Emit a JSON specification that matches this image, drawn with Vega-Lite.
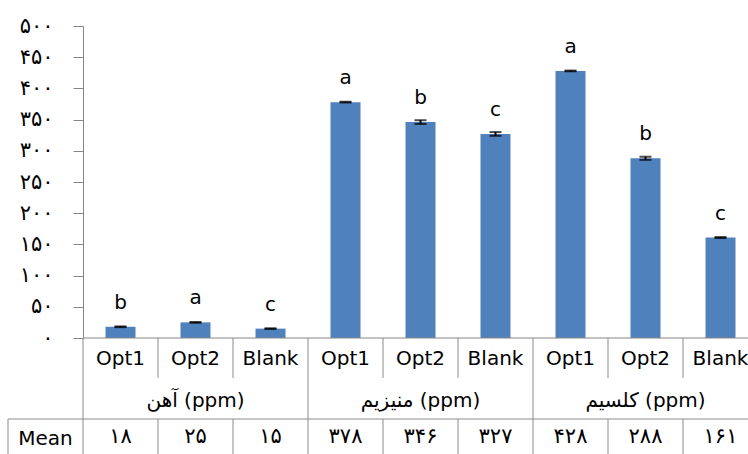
{
  "$schema": "https://vega.github.io/schema/vega-lite/v6.json",
  "padding": {"left": 0, "top": 15, "right": 0, "bottom": 0},
  "background": "white",
  "spacing": 0,
  "bounds": "flush",
  "config": {"view": {"stroke": null}, "font": "DejaVu Sans", "text": {"font": "DejaVu Sans", "color": "black"},
             "axisY": {"grid": false, "tickSize": 10, "labelPadding": 20, "labelOverlap": false, "labelBound": false,
                       "domainColor": "#868686", "tickColor": "#868686", "labelFont": "DejaVu Sans", "labelFontSize": 21, "labelColor": "black",
                       "minExtent": 83, "maxExtent": 83}},
  "datasets": {
    "d": [
      {"key": "Fe-Opt1", "cat": "Opt1", "grp": "آهن (ppm)", "value": 18, "err": 0.6, "letter": "b", "mean": "۱۸"},
      {"key": "Fe-Opt2", "cat": "Opt2", "grp": "آهن (ppm)", "value": 25, "err": 0.6, "letter": "a", "mean": "۲۵"},
      {"key": "Fe-Blank", "cat": "Blank", "grp": "آهن (ppm)", "value": 15, "err": 0.6, "letter": "c", "mean": "۱۵"},
      {"key": "Mg-Opt1", "cat": "Opt1", "grp": "منیزیم (ppm)", "value": 378, "err": 0.6, "letter": "a", "mean": "۳۷۸"},
      {"key": "Mg-Opt2", "cat": "Opt2", "grp": "منیزیم (ppm)", "value": 346, "err": 3, "letter": "b", "mean": "۳۴۶"},
      {"key": "Mg-Blank", "cat": "Blank", "grp": "منیزیم (ppm)", "value": 327, "err": 3, "letter": "c", "mean": "۳۲۷"},
      {"key": "Ca-Opt1", "cat": "Opt1", "grp": "کلسیم (ppm)", "value": 428, "err": 0.6, "letter": "a", "mean": "۴۲۸"},
      {"key": "Ca-Opt2", "cat": "Opt2", "grp": "کلسیم (ppm)", "value": 288, "err": 2.5, "letter": "b", "mean": "۲۸۸"},
      {"key": "Ca-Blank", "cat": "Blank", "grp": "کلسیم (ppm)", "value": 161, "err": 0.8, "letter": "c", "mean": "۱۶۱"}
    ]
  },
  "vconcat": [
    {
      "width": 665,
      "height": 312,
      "data": {"name": "d"},
      "encoding": {
        "x": {"field": "key", "type": "nominal", "sort": null, "axis": null,
              "scale": {"type": "band", "domain": ["hdr", "Fe-Opt1", "Fe-Opt2", "Fe-Blank", "Mg-Opt1", "Mg-Opt2", "Mg-Blank", "Ca-Opt1", "Ca-Opt2", "Ca-Blank"], "range": [-75, 675], "paddingInner": 0, "paddingOuter": 0}},
        "y": {"field": "value", "type": "quantitative", "title": null,
              "scale": {"domain": [0, 500], "nice": false},
              "axis": {"values": [0, 50, 100, 150, 200, 250, 300, 350, 400, 450, 500],
                       "tickCount": 11,
                       "labelExpr": "replace(replace(replace(replace(replace(replace(datum.label,/0/g,'۰'),/1/g,'۱'),/2/g,'۲'),/3/g,'۳'),/4/g,'۴'),/5/g,'۵')"}}
      },
      "layer": [
        {
          "mark": {"type": "bar", "width": {"band": 0.4}, "color": "#4F81BD"}
        },
        {
          "mark": {"type": "errorbar", "ticks": true, "size": 12, "thickness": 2, "color": "black"},
          "encoding": {
            "yError": {"field": "err"}
          }
        },
        {
          "mark": {"type": "text", "dy": -18, "baseline": "alphabetic", "fontSize": 20},
          "encoding": {
            "text": {"field": "letter"}
          }
        }
      ]
    },
    {
      "width": 665,
      "height": 40,
      "data": {"name": "d"},
      "layer": [
        {
          "data": {"values": [{}]},
          "mark": {"type": "rule", "color": "#868686"},
          "encoding": {
            "y": {"datum": 1, "type": "quantitative", "axis": null, "scale": {"domain": [0, 1]}}
          }
        },
        {
          "mark": {"type": "rule", "color": "#8c8c8c"},
          "encoding": {
            "x": {"field": "key", "type": "nominal", "sort": null, "axis": null, "bandPosition": 0,
                  "scale": {"type": "band", "domain": ["hdr", "Fe-Opt1", "Fe-Opt2", "Fe-Blank", "Mg-Opt1", "Mg-Opt2", "Mg-Blank", "Ca-Opt1", "Ca-Opt2", "Ca-Blank"], "range": [-75, 675], "paddingInner": 0, "paddingOuter": 0}}
          }
        },
        {
          "mark": {"type": "text", "fontSize": 20, "clip": true, "dy": 1},
          "encoding": {
            "x": {"field": "key", "type": "nominal", "sort": null},
            "text": {"field": "cat"}
          }
        }
      ]
    },
    {
      "width": 665,
      "height": 41,
      "data": {"name": "d"},
      "layer": [
        {
          "transform": [{"filter": "datum.cat === 'Opt1'"}],
          "mark": {"type": "rule", "color": "#8c8c8c"},
          "encoding": {
            "x": {"field": "key", "type": "nominal", "sort": null, "axis": null, "bandPosition": 0,
                  "scale": {"type": "band", "domain": ["hdr", "Fe-Opt1", "Fe-Opt2", "Fe-Blank", "Mg-Opt1", "Mg-Opt2", "Mg-Blank", "Ca-Opt1", "Ca-Opt2", "Ca-Blank"], "range": [-75, 675], "paddingInner": 0, "paddingOuter": 0}}
          }
        },
        {
          "transform": [{"filter": "datum.cat === 'Opt2'"}],
          "mark": {"type": "text", "fontSize": 20, "clip": true, "dy": 2},
          "encoding": {
            "x": {"field": "key", "type": "nominal", "sort": null},
            "text": {"field": "grp"}
          }
        }
      ]
    },
    {
      "width": 665,
      "height": 36,
      "data": {"name": "d"},
      "layer": [
        {
          "data": {"values": [{}]},
          "mark": {"type": "rule", "color": "#8c8c8c"},
          "encoding": {
            "y": {"datum": 1, "type": "quantitative", "axis": null, "scale": {"domain": [0, 1]}}
          }
        },
        {
          "data": {"values": [{}]},
          "mark": {"type": "rule", "color": "#8c8c8c"},
          "encoding": {
            "x": {"datum": "hdr", "type": "nominal", "bandPosition": 0, "axis": null,
                  "scale": {"type": "band", "domain": ["hdr", "Fe-Opt1", "Fe-Opt2", "Fe-Blank", "Mg-Opt1", "Mg-Opt2", "Mg-Blank", "Ca-Opt1", "Ca-Opt2", "Ca-Blank"], "range": [-75, 675], "paddingInner": 0, "paddingOuter": 0}},
            "x2": {"datum": "hdr", "bandPosition": 1},
            "y": {"datum": 1, "type": "quantitative"}
          }
        },
        {
          "data": {"values": [{}]},
          "mark": {"type": "rule", "color": "#8c8c8c"},
          "encoding": {
            "x": {"datum": "hdr", "type": "nominal", "bandPosition": 0}
          }
        },
        {
          "mark": {"type": "rule", "color": "#8c8c8c"},
          "encoding": {
            "x": {"field": "key", "type": "nominal", "sort": null, "bandPosition": 0}
          }
        },
        {
          "mark": {"type": "text", "fontSize": 21, "clip": true, "dy": 0},
          "encoding": {
            "x": {"field": "key", "type": "nominal", "sort": null},
            "text": {"field": "mean"}
          }
        },
        {
          "data": {"values": [{}]},
          "mark": {"type": "text", "fontSize": 20, "dy": 2},
          "encoding": {
            "x": {"datum": "hdr", "type": "nominal"},
            "text": {"value": "Mean"}
          }
        }
      ]
    }
  ]
}
